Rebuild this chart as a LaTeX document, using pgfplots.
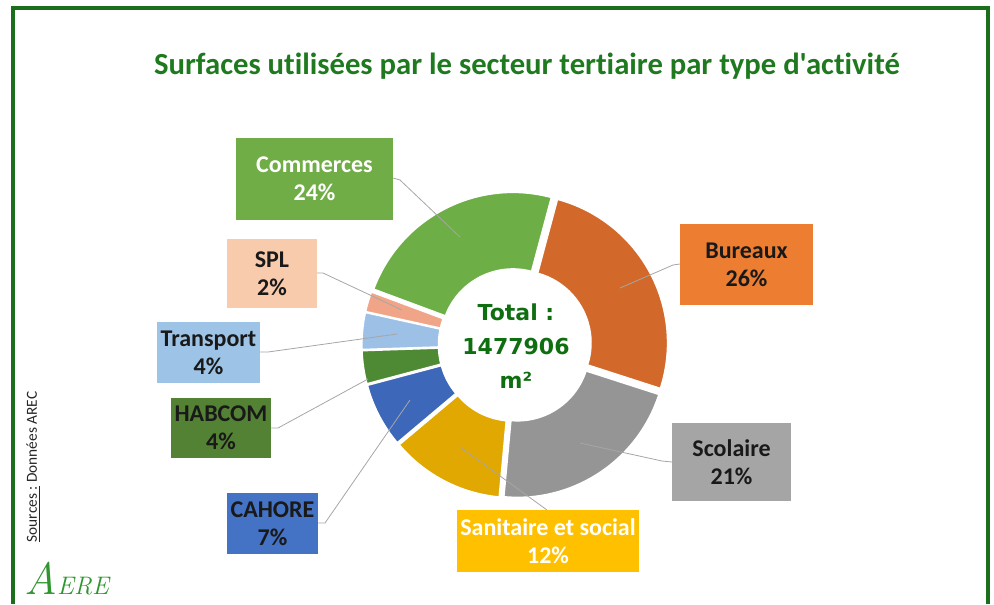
\documentclass[border=0pt]{standalone}
\usepackage{pgfplots}
\usepackage{pgfplotstable}
\pgfplotsset{compat=1.18}
\usepackage{fontspec}
\setmainfont{Carlito}[Ligatures={TeXOff,CommonOff}]
\newfontfamily\dejavu{DejaVu Sans}
\newfontfamily\lmr{Latin Modern Roman}
\definecolor{frame}{HTML}{1B6E1B}
\definecolor{titlegreen}{HTML}{1F7A1F}
\definecolor{centergreen}{HTML}{0F6E10}
\definecolor{leader}{HTML}{A6A6A6}
\definecolor{logogreen}{HTML}{2F962F}
% slice colours (as rendered)
\definecolor{slice0}{HTML}{D2692A}
\definecolor{slice1}{HTML}{959595}
\definecolor{slice2}{HTML}{E0A800}
\definecolor{slice3}{HTML}{3D67B8}
\definecolor{slice4}{HTML}{4E8A34}
\definecolor{slice5}{HTML}{9CC0E6}
\definecolor{slice6}{HTML}{F1A588}
\definecolor{slice7}{HTML}{6DAE47}
% label box colours
\definecolor{boxBureaux}{HTML}{ED7D31}
\definecolor{boxScolaire}{HTML}{A5A5A5}
\definecolor{boxSanitaire}{HTML}{FFC000}
\definecolor{boxCAHORE}{HTML}{4472C4}
\definecolor{boxHABCOM}{HTML}{548235}
\definecolor{boxTransport}{HTML}{9DC3E6}
\definecolor{boxSPL}{HTML}{F8CBAD}
\definecolor{boxCommerces}{HTML}{70AD47}

\pgfplotstableread{
name pct
Bureaux 25.8
Scolaire 21.5
Sanitaire 12.4
CAHORE 7.0
HABCOM 3.6
Transport 4.0
SPL 2.2
Commerces 23.5
}\slices

% cumulative angles (clockwise from 75 degrees)
\def\cum{75}
\pgfplotsforeachungrouped \i in {0,...,7}{%
  \pgfplotstablegetelem{\i}{pct}\of\slices
  \pgfmathsetmacro\aone{\cum}%
  \pgfmathsetmacro\atwo{\cum-3.6*\pgfplotsretval}%
  \pgfmathsetmacro\amid{(\aone+\atwo)/2}%
  \pgfmathsetmacro\cx{515+4.5*cos(\amid)}%
  \pgfmathsetmacro\cy{345-4.5*sin(\amid)}%
  \expandafter\xdef\csname sA\i\endcsname{\aone}%
  \expandafter\xdef\csname sB\i\endcsname{\atwo}%
  \expandafter\xdef\csname sX\i\endcsname{\cx}%
  \expandafter\xdef\csname sY\i\endcsname{\cy}%
  \xdef\cum{\atwo}%
}

\newcommand{\lbl}[7]{%
  \fill[#5] (axis cs:#1,#2) rectangle (axis cs:#3,#4);
  \node[text=#6, font=\bfseries\fontsize{18}{21}\selectfont, align=center, inner sep=0pt]
    at (axis cs:{(#1+#3)/2},{(#2+#4)/2}) {#7};
}

\begin{document}
\begin{tikzpicture}
\begin{axis}[
  width=745.5pt, height=453pt, scale only axis,
  xmin=0, xmax=994, ymin=0, ymax=604, y dir=reverse,
  hide axis, clip=true,
]
% full picture area
\path (axis cs:0,0) rectangle (axis cs:994,604);
% frame
\draw[frame, line width=2.4pt] (axis cs:13,604) -- (axis cs:13,8) -- (axis cs:988,8) -- (axis cs:988,604);
% title
\node[text=titlegreen, font=\bfseries\fontsize{23}{27}\selectfont] at (axis cs:527,66) {Surfaces utilisées par le secteur tertiaire par type d'activité};

% doughnut slices
\pgfplotsinvokeforeach{0,...,7}{
  \fill[slice#1, draw=white, line width=1.2pt,
        shift={(axis cs:\csname sX#1\endcsname,\csname sY#1\endcsname)}]
    (\csname sA#1\endcsname:111.5pt) arc[start angle=\csname sA#1\endcsname, end angle=\csname sB#1\endcsname, radius=111.5pt]
    -- (\csname sB#1\endcsname:54pt) arc[start angle=\csname sB#1\endcsname, end angle=\csname sA#1\endcsname, radius=54pt]
    -- cycle;
}

% centre text
\node[text=centergreen, font=\dejavu\bfseries\fontsize{16.5}{25.5}\selectfont, align=center] at (axis cs:516,346) {Total~:\\1477906\\m²};

% leader lines
\draw[leader, line width=0.6pt] (axis cs:393,178) -- (axis cs:400,180) -- (axis cs:460,237);
\draw[leader, line width=0.6pt] (axis cs:317,273) -- (axis cs:323,273) -- (axis cs:402,310);
\draw[leader, line width=0.6pt] (axis cs:260,352) -- (axis cs:268,352) -- (axis cs:397,334);
\draw[leader, line width=0.6pt] (axis cs:271,428) -- (axis cs:278,428) -- (axis cs:368,379);
\draw[leader, line width=0.6pt] (axis cs:318,523) -- (axis cs:325,523) -- (axis cs:410,400);
\draw[leader, line width=0.6pt] (axis cs:547,510) -- (axis cs:460,447);
\draw[leader, line width=0.6pt] (axis cs:672,462) -- (axis cs:662,461) -- (axis cs:580,443);
\draw[leader, line width=0.6pt] (axis cs:680,264) -- (axis cs:673,265) -- (axis cs:620,288);

% data labels
\lbl{236}{138}{393}{220}{boxCommerces}{white}{Commerces\\24\%}
\lbl{227}{239}{317}{308}{boxSPL}{black!90}{SPL\\2\%}
\lbl{157}{322}{260}{383}{boxTransport}{black!90}{Transport\\4\%}
\lbl{171}{398}{271}{458}{boxHABCOM}{black!90}{HABCOM\\4\%}
\lbl{227}{493}{318}{554}{boxCAHORE}{black!90}{CAHORE\\7\%}
\lbl{457}{510}{639}{572}{boxSanitaire}{white}{Sanitaire et social\\12\%}
\lbl{672}{423}{791}{501}{boxScolaire}{black!90}{Scolaire\\21\%}
\lbl{680}{224}{813}{305}{boxBureaux}{black!90}{Bureaux\\26\%}

% source
\node[rotate=90, font=\fontsize{11.5}{13}\selectfont, text=black!85] at (axis cs:33,467) {\underline{Sources :} Données AREC};
% logo
\node[text=logogreen, anchor=west, inner sep=0pt] at (axis cs:24,579) {\lmr\itshape{\fontsize{34}{34}\selectfont A}{\fontsize{19}{19}\selectfont ERE}};
\end{axis}
\end{tikzpicture}
\end{document}
